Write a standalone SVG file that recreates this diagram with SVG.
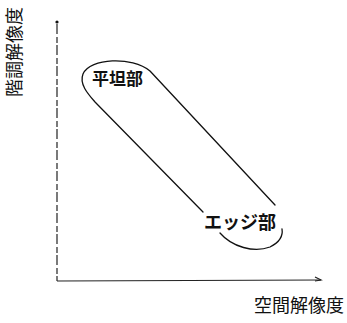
<svg xmlns="http://www.w3.org/2000/svg" width="347" height="323" viewBox="0 0 347 323">
<style>
.ln{fill:none;stroke:#111;stroke-width:1.3;stroke-linecap:round;stroke-linejoin:round}
.ax{fill:none;stroke:#222;stroke-width:1.2}
.t{font-family:"Noto Sans CJK JP","Noto Sans CJK SC",sans-serif;fill:#111}
.b{font-weight:bold}
</style>
<rect width="347" height="323" fill="#fff"/>
<g id="axes">
<line class="ax" x1="57" y1="24" x2="57" y2="281" stroke-dasharray="10 3 6 2"/>
<circle cx="57" cy="22" r="1.6" fill="#111"/>
<line class="ax" x1="57" y1="281" x2="321" y2="280"/>
<polyline class="ax" points="315,277 321,280 315,281"/>
</g>
<g id="ylabel">
<text class="t" font-size="18" transform="translate(21,52) rotate(-90)" text-anchor="middle" fill="#333">階調解像度</text>
</g>
<g id="xlabel">
<text class="t" font-size="18" x="254" y="312" fill="#333">空間解像度</text>
</g>
<g id="connectors">
<path class="ln" d="M275 205 L150 71 C132 56 90 58 83 74 C79 84 88 94 95 102 L203 212"/>
<path class="ln" d="M220 233 C232 247 254 253 270 247 C280 242 283 235 282 229"/>
</g>
<g id="flat">
<text class="t b" font-size="17" x="92" y="85">平坦部</text>
</g>
<g id="edge">
<text class="t b" font-size="18" x="204" y="229">エッジ部</text>
</g>
</svg>
